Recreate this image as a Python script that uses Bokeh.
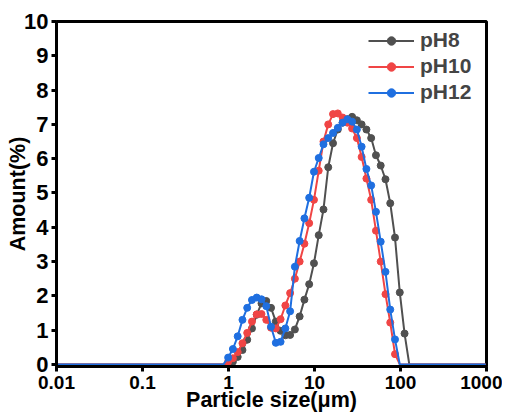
from bokeh.plotting import figure
from bokeh.models import Range1d, FixedTicker, CustomJSTickFormatter, Legend, LegendItem
from bokeh.embed import file_html
from bokeh.resources import INLINE

# Particle size classes (µm)
sizes = [0.01, 0.01136, 0.01291, 0.01467, 0.01667, 0.01893, 0.02151, 0.02444, 0.02777, 0.03155,
         0.03584, 0.04072, 0.04627, 0.05257, 0.05972, 0.06786, 0.07710, 0.08759, 0.09953, 0.1131,
         0.1285, 0.1460, 0.1659, 0.1884, 0.2141, 0.2432, 0.2763, 0.3140, 0.3567, 0.4053,
         0.4605, 0.5232, 0.5944, 0.6754, 0.7674, 0.8718, 0.9906, 1.125, 1.279, 1.453,
         1.650, 1.875, 2.130, 2.420, 2.750, 3.124, 3.550, 4.033, 4.582, 5.206,
         5.914, 6.720, 7.634, 8.674, 9.858, 11.20, 12.72, 14.45, 16.42, 18.66,
         21.21, 24.09, 27.37, 31.10, 35.33, 40.14, 45.61, 51.82, 58.87, 66.88,
         75.99, 86.33, 98.11, 111.5, 126.6, 143.9, 163.5, 185.7, 211.0, 239.8,
         272.4, 309.5, 351.6, 399.5, 453.9, 515.7, 586.0, 665.8, 756.4, 859.4,
         976.4]

ph8 = [0, 0, 0, 0, 0, 0, 0, 0, 0, 0,
       0, 0, 0, 0, 0, 0, 0, 0, 0, 0,
       0, 0, 0, 0, 0, 0, 0, 0, 0, 0,
       0, 0, 0, 0, 0, 0, 0.0, 0.08, 0.22, 0.42,
       0.72, 1.05, 1.45, 1.78, 1.85, 1.65, 1.25, 0.98, 0.85, 0.86,
       1.02, 1.40, 1.89, 2.34, 2.95, 3.77, 4.52, 5.75, 6.45, 6.85,
       7.05, 7.15, 7.22, 7.12, 7.00, 6.85, 6.60, 6.10, 5.80, 5.40,
       4.70, 3.70, 2.10, 0.90, 0, 0, 0, 0, 0, 0,
       0, 0, 0, 0, 0, 0, 0, 0, 0, 0,
       0]

ph10 = [0, 0, 0, 0, 0, 0, 0, 0, 0, 0,
        0, 0, 0, 0, 0, 0, 0, 0, 0, 0,
        0, 0, 0, 0, 0, 0, 0, 0, 0, 0,
        0, 0, 0, 0, 0, 0, 0.08, 0.18, 0.36, 0.62,
        0.92, 1.25, 1.46, 1.47, 1.30, 1.07, 1.05, 1.32, 1.72, 2.08,
        2.50, 3.00, 3.52, 4.12, 4.80, 5.65, 6.50, 7.00, 7.30, 7.32,
        7.20, 7.05, 6.88, 6.60, 6.05, 5.42, 4.80, 3.90, 3.00, 2.05,
        1.22, 0.30, 0, 0, 0, 0, 0, 0, 0, 0,
        0, 0, 0, 0, 0, 0, 0, 0, 0, 0,
        0]

ph12 = [0, 0, 0, 0, 0, 0, 0, 0, 0, 0,
        0, 0, 0, 0, 0, 0, 0, 0, 0, 0,
        0, 0, 0, 0, 0, 0, 0, 0, 0, 0,
        0, 0, 0, 0, 0, 0, 0.20, 0.45, 0.82, 1.30,
        1.65, 1.88, 1.95, 1.90, 1.70, 1.10, 0.63, 0.66, 1.05, 1.55,
        2.85, 3.60, 4.26, 4.86, 5.62, 6.02, 6.42, 6.60, 6.75, 6.90,
        7.05, 7.15, 7.08, 6.85, 6.35, 5.70, 5.22, 4.45, 3.58, 2.70,
        1.60, 0.73, 0, 0, 0, 0, 0, 0, 0, 0,
        0, 0, 0, 0, 0, 0, 0, 0, 0, 0,
        0]

series_names = ["pH8", "pH10", "pH12"]
series_colors = ["#505050", "#f04545", "#1f6fe0"]

x_ticks = [0.01, 0.1, 1, 10, 100, 1000]
x_tick_labels = ["0.01", "0.1", "1", "10", "100", "1000"]
y_ticks = [0, 1, 2, 3, 4, 5, 6, 7, 8, 9, 10]

FONT = "Liberation Sans"

p = figure(frame_width=430, frame_height=345, x_axis_type="log",
           x_range=Range1d(0.01, 1000), y_range=Range1d(-0.06, 10),
           output_backend="svg", toolbar_location=None,
           min_border_left=56, min_border_right=16, min_border_top=21, min_border_bottom=10,
           x_axis_label="Particle size(μm)", y_axis_label="Amount(%)")
p.grid.visible = False
p.outline_line_color = "black"
p.outline_line_width = 3
p.outline_line_alpha = 1
p.background_fill_color = "white"
p.border_fill_color = "white"

for ax in p.axis:
    ax.axis_line_width = 3
    ax.axis_line_color = "black"
    ax.major_tick_line_width = 3
    ax.major_tick_out = 5
    ax.major_tick_in = 0
    ax.minor_tick_out = 0
    ax.minor_tick_in = 0
    ax.major_label_text_font = FONT
    ax.major_label_text_font_style = "bold"
    ax.major_label_text_color = "black"
    ax.axis_label_text_font = FONT
    ax.axis_label_text_font_style = "bold"
    ax.axis_label_text_font_size = "21.5px"
    ax.axis_label_text_color = "black"

p.xaxis.major_label_text_font_size = "19px"
p.yaxis.major_label_text_font_size = "22px"
p.xaxis.major_label_standoff = 4
p.xaxis.axis_label_standoff = -4
p.yaxis.major_label_standoff = 3
p.yaxis.axis_label_standoff = -9

p.xaxis.ticker = FixedTicker(ticks=x_ticks)
p.yaxis.ticker = FixedTicker(ticks=y_ticks)
p.xaxis.formatter = CustomJSTickFormatter(args=dict(xt=x_ticks, xl=x_tick_labels), code="""
    for (let i = 0; i < xt.length; i++) {
        if (Math.abs(Math.log10(xt[i]) - Math.log10(tick)) < 1e-6) { return xl[i]; }
    }
    return "";
""")

items = []
for name, vals, color in zip(series_names, [ph8, ph10, ph12], series_colors):
    ln = p.line(sizes, vals, line_color=color, line_width=2)
    xs = [s for s, v in zip(sizes, vals) if v > 0]
    ys = [v for v in vals if v > 0]
    sc = p.scatter(xs, ys, marker="circle", size=7, fill_color=color, line_color=color)
    items.append(LegendItem(label=name, renderers=[ln, sc]))

legend = Legend(items=items, location=(312, 262))
legend.border_line_color = None
legend.background_fill_alpha = 0
legend.label_text_font = FONT
legend.label_text_font_style = "bold"
legend.label_text_font_size = "21px"
legend.glyph_width = 46
legend.glyph_height = 21
legend.label_height = 21
legend.spacing = 2
legend.padding = 3
legend.label_standoff = 6
legend.margin = 0
p.add_layout(legend)

open("out.html", "w").write(file_html(p, INLINE))
